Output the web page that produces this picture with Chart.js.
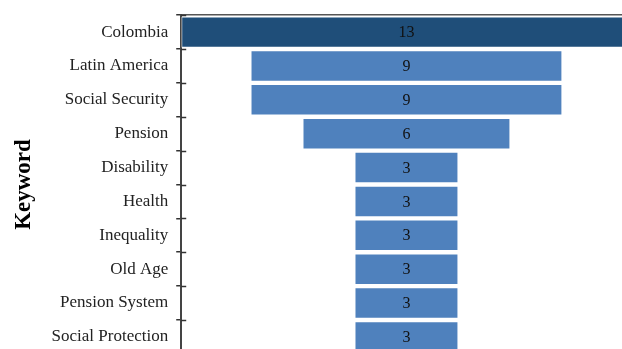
<!doctype html>
<html>
	<head>
		<title>Keyword Funnel</title>
		<script src="https://cdn.jsdelivr.net/npm/chart.js@4.4.1/dist/chart.umd.min.js"></script>
		<style>
			html, body { margin: 0; padding: 0; overflow: hidden; background: #fff; }
			canvas { display: block; margin-top: -3px; }
		</style>
	</head>
	<body>
		<canvas id="canvas" width="622" height="375"></canvas>

	<script>
	var keywords = ["Colombia","Latin America","Social Security","Pension","Disability","Health","Inequality","Old Age","Pension System","Social Protection"];
	var counts = [13, 9, 9, 6, 3, 3, 3, 3, 3, 3];
	var barColors = ["#1F4E79","#4F81BD","#4F81BD","#4F81BD","#4F81BD","#4F81BD","#4F81BD","#4F81BD","#4F81BD","#4F81BD"];

	// funnel: each bar is centred on zero
	var funnelData = counts.map(function(v){ return [-v/2, v/2]; });

	var serif = '"Liberation Serif", "Times New Roman", serif';

	var funnelExtras = {
		id: 'funnelExtras',
		afterDatasetsDraw: function(chart){
			var ctx = chart.ctx;
			var xs = chart.scales.x, ys = chart.scales.y;
			ctx.save();
			ctx.font = '16px ' + serif;
			ctx.fillStyle = '#111';
			ctx.textAlign = 'center';
			ctx.textBaseline = 'middle';
			counts.forEach(function(v, i){
				ctx.fillText(String(v), xs.getPixelForValue(0), ys.getPixelForValue(i) + 1);
			});
			ctx.restore();
		},
		afterDraw: function(chart){
			// inner half of the crossing tick marks
			var ctx = chart.ctx;
			var a = chart.chartArea;
			var n = keywords.length;
			var step = (a.bottom - a.top) / n;
			ctx.save();
			ctx.strokeStyle = '#333';
			ctx.lineWidth = 1.5;
			for (var i = 0; i <= n; i++){
				var y = Math.round(a.top + i*step) + 0.5;
				ctx.beginPath();
				ctx.moveTo(a.left, y);
				ctx.lineTo(a.left + 5, y);
				ctx.stroke();
			}
			ctx.restore();
		}
	};

	window.onload = function(){
		var ctx = document.getElementById("canvas").getContext("2d");
		window.myBar = new Chart(ctx, {
			type: 'bar',
			data: {
				labels: keywords,
				datasets: [{
					data: funnelData,
					backgroundColor: barColors,
					borderColor: 'rgba(255,255,255,0.7)',
					borderWidth: 1,
					borderSkipped: false,
					categoryPercentage: 1,
					barPercentage: 0.93
				}]
			},
			options: {
				indexAxis: 'y',
				responsive: false,
				animation: false,
				layout: { padding: { top: 9, right: 0, bottom: 0, left: 10 } },
				plugins: { legend: { display: false }, tooltip: { enabled: false } },
				scales: {
					x: {
						position: 'top',
						min: -6.5,
						max: 6.22,
						ticks: { display: false },
						grid: { display: false, drawTicks: false },
						border: { display: true, color: '#555', width: 1.5 }
					},
					y: {
						offset: true,
						grid: { offset: true, drawOnChartArea: false, tickLength: 5, color: '#333', lineWidth: 1.5 },
						border: { color: '#444', width: 2 },
						ticks: {
							color: '#222',
							padding: 8,
							font: { family: serif, size: 17 }
						},
						title: {
							display: true,
							text: 'Keyword',
							color: '#000',
							padding: { top: 0, bottom: 6 },
							font: { family: serif, size: 23, weight: 'bold' }
						}
					}
				}
			},
			plugins: [funnelExtras]
		});
	};
	</script>
	</body>
</html>
